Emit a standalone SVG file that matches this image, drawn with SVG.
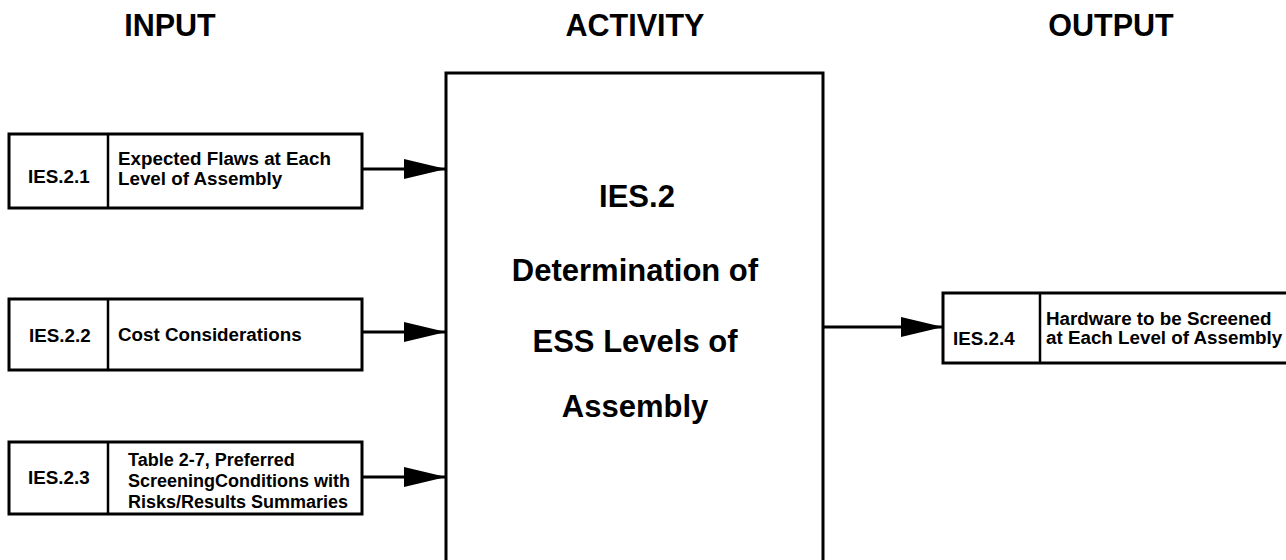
<svg xmlns="http://www.w3.org/2000/svg" width="1286" height="560" viewBox="0 0 1286 560">
  <style>
    .t { font-family: "Liberation Sans", Arial, sans-serif; font-weight: bold; fill: #000; }
    .head { font-size: 30.5px; text-anchor: middle; }
    .main { font-size: 31px; text-anchor: middle; }
    .lbl { font-size: 18.8px; }
    .sm { font-size: 18px; }
    .box { fill: #fff; stroke: #000; stroke-width: 3; }
    .div { stroke: #000; stroke-width: 2.5; }
    .conn { stroke: #000; stroke-width: 3; fill: none; }
  </style>
  <defs>
    <marker id="arr" markerUnits="userSpaceOnUse" markerWidth="44" markerHeight="22" refX="42" refY="11" orient="auto">
      <path d="M0,1 L42,11 L0,21 z" fill="#000"/>
    </marker>
  </defs>
  <rect width="1286" height="560" fill="#fff"/>

  <text class="t head" x="170" y="36">INPUT</text>
  <text class="t head" x="635" y="36">ACTIVITY</text>
  <text class="t head" x="1111" y="36">OUTPUT</text>

  <g id="activity">
    <rect class="box" x="446" y="73" width="377" height="520" stroke-width="3.5"/>
    <text class="t main" x="637" y="207">IES.2</text>
    <text class="t main" x="635" y="281">Determination of</text>
    <text class="t main" x="635" y="352">ESS Levels of</text>
    <text class="t main" x="635" y="417">Assembly</text>
  </g>

  <g id="in1">
    <rect class="box" x="9" y="134" width="353" height="74"/>
    <line class="div" x1="108" y1="134" x2="108" y2="208"/>
    <text class="t lbl" x="28" y="183">IES.2.1</text>
    <text class="t lbl" x="118" y="165">Expected Flaws at Each</text>
    <text class="t lbl" x="118" y="185">Level of Assembly</text>
  </g>

  <g id="in2">
    <rect class="box" x="9" y="299" width="353" height="71"/>
    <line class="div" x1="108" y1="299" x2="108" y2="370"/>
    <text class="t lbl" x="29" y="342">IES.2.2</text>
    <text class="t lbl" x="118" y="341">Cost Considerations</text>
  </g>

  <g id="in3">
    <rect class="box" x="9" y="442" width="353" height="72"/>
    <line class="div" x1="108" y1="442" x2="108" y2="514"/>
    <text class="t lbl" x="28" y="484">IES.2.3</text>
    <text class="t sm" x="128" y="466">Table 2-7, Preferred</text>
    <text class="t sm" x="128" y="487">ScreeningConditions with</text>
    <text class="t sm" x="128" y="508">Risks/Results Summaries</text>
  </g>

  <g id="out1">
    <rect class="box" x="943" y="293" width="360" height="70"/>
    <line class="div" x1="1040" y1="293" x2="1040" y2="363"/>
    <text class="t lbl" x="953" y="345">IES.2.4</text>
    <text class="t lbl" x="1046" y="325">Hardware to be Screened</text>
    <text class="t lbl" x="1046" y="344">at Each Level of Assembly</text>
  </g>

  <g id="connectors">
    <line class="conn" x1="362" y1="169" x2="446" y2="169" marker-end="url(#arr)"/>
    <line class="conn" x1="362" y1="332" x2="446" y2="332" marker-end="url(#arr)"/>
    <line class="conn" x1="362" y1="477" x2="446" y2="477" marker-end="url(#arr)"/>
    <line class="conn" x1="823" y1="327" x2="943" y2="327" marker-end="url(#arr)"/>
  </g>
</svg>
